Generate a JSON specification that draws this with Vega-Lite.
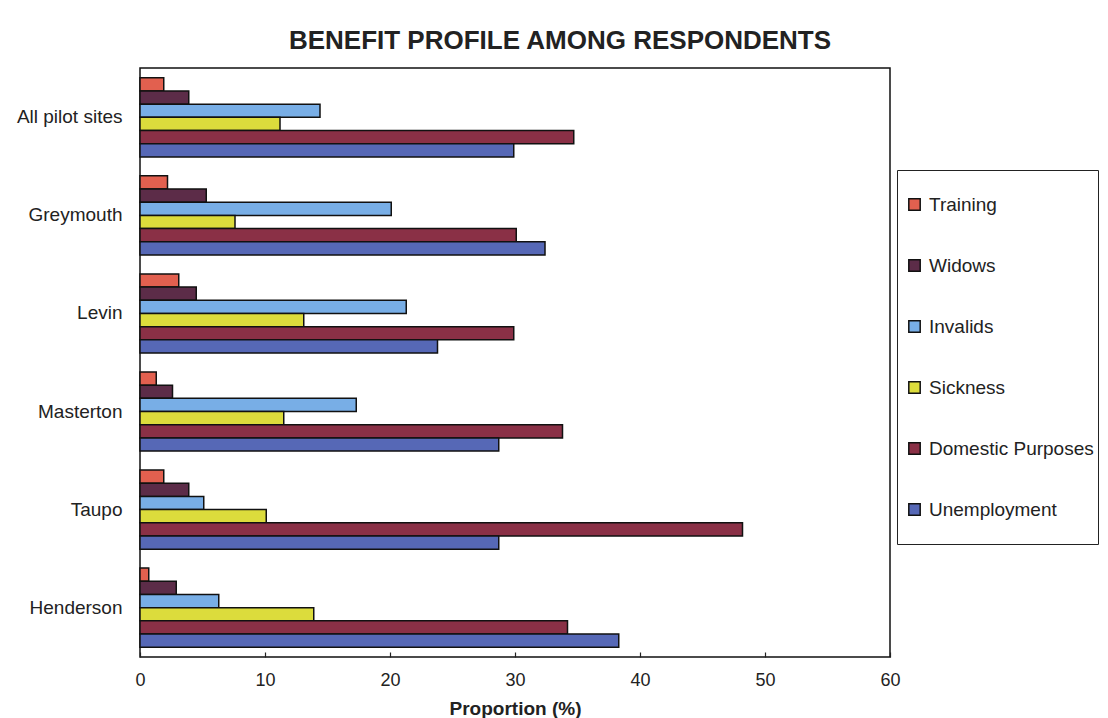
{
  "$schema": "https://vega.github.io/schema/vega-lite/v6.json",
  "width": 750,
  "height": 589,
  "autosize": "none",
  "padding": {"left": 140, "top": 68, "right": 218, "bottom": 61},
  "background": "white",
  "title": {
    "text": "BENEFIT PROFILE AMONG RESPONDENTS",
    "font": "Liberation Sans",
    "fontSize": 26,
    "fontWeight": "bold",
    "color": "#222222",
    "anchor": "middle",
    "dx": 45,
    "offset": 14
  },
  "data": {
    "values": [
      {"site": "All pilot sites", "benefit": "Training", "pct": 1.9},
      {"site": "All pilot sites", "benefit": "Widows", "pct": 3.9},
      {"site": "All pilot sites", "benefit": "Invalids", "pct": 14.4},
      {"site": "All pilot sites", "benefit": "Sickness", "pct": 11.2},
      {"site": "All pilot sites", "benefit": "Domestic Purposes", "pct": 34.7},
      {"site": "All pilot sites", "benefit": "Unemployment", "pct": 29.9},
      {"site": "Greymouth", "benefit": "Training", "pct": 2.2},
      {"site": "Greymouth", "benefit": "Widows", "pct": 5.3},
      {"site": "Greymouth", "benefit": "Invalids", "pct": 20.1},
      {"site": "Greymouth", "benefit": "Sickness", "pct": 7.6},
      {"site": "Greymouth", "benefit": "Domestic Purposes", "pct": 30.1},
      {"site": "Greymouth", "benefit": "Unemployment", "pct": 32.4},
      {"site": "Levin", "benefit": "Training", "pct": 3.1},
      {"site": "Levin", "benefit": "Widows", "pct": 4.5},
      {"site": "Levin", "benefit": "Invalids", "pct": 21.3},
      {"site": "Levin", "benefit": "Sickness", "pct": 13.1},
      {"site": "Levin", "benefit": "Domestic Purposes", "pct": 29.9},
      {"site": "Levin", "benefit": "Unemployment", "pct": 23.8},
      {"site": "Masterton", "benefit": "Training", "pct": 1.3},
      {"site": "Masterton", "benefit": "Widows", "pct": 2.6},
      {"site": "Masterton", "benefit": "Invalids", "pct": 17.3},
      {"site": "Masterton", "benefit": "Sickness", "pct": 11.5},
      {"site": "Masterton", "benefit": "Domestic Purposes", "pct": 33.8},
      {"site": "Masterton", "benefit": "Unemployment", "pct": 28.7},
      {"site": "Taupo", "benefit": "Training", "pct": 1.9},
      {"site": "Taupo", "benefit": "Widows", "pct": 3.9},
      {"site": "Taupo", "benefit": "Invalids", "pct": 5.1},
      {"site": "Taupo", "benefit": "Sickness", "pct": 10.1},
      {"site": "Taupo", "benefit": "Domestic Purposes", "pct": 48.2},
      {"site": "Taupo", "benefit": "Unemployment", "pct": 28.7},
      {"site": "Henderson", "benefit": "Training", "pct": 0.7},
      {"site": "Henderson", "benefit": "Widows", "pct": 2.9},
      {"site": "Henderson", "benefit": "Invalids", "pct": 6.3},
      {"site": "Henderson", "benefit": "Sickness", "pct": 13.9},
      {"site": "Henderson", "benefit": "Domestic Purposes", "pct": 34.2},
      {"site": "Henderson", "benefit": "Unemployment", "pct": 38.3}
    ]
  },
  "mark": {"type": "bar", "stroke": "#111111", "strokeWidth": 1.5},
  "encoding": {
    "y": {
      "field": "site",
      "type": "nominal",
      "sort": ["All pilot sites", "Greymouth", "Levin", "Masterton", "Taupo", "Henderson"],
      "scale": {"paddingInner": 0.193, "paddingOuter": 0.1},
      "axis": {
        "title": null,
        "domain": false,
        "ticks": false,
        "labelPadding": 18,
        "labelFont": "Liberation Sans",
        "labelFontSize": 19,
        "labelColor": "#222222"
      }
    },
    "yOffset": {
      "field": "benefit",
      "type": "nominal",
      "sort": ["Training", "Widows", "Invalids", "Sickness", "Domestic Purposes", "Unemployment"],
      "scale": {"paddingInner": 0, "paddingOuter": 0}
    },
    "x": {
      "field": "pct",
      "type": "quantitative",
      "scale": {"domain": [0, 60], "nice": false},
      "axis": {
        "title": "Proportion (%)",
        "values": [0, 10, 20, 30, 40, 50, 60],
        "grid": false,
        "domain": false,
        "tickSize": -5,
        "tickWidth": 1.2,
        "tickColor": "#222222",
        "labelFlush": false,
        "labelPadding": 19,
        "labelFont": "Liberation Sans",
        "labelFontSize": 18,
        "labelColor": "#222222",
        "titleFont": "Liberation Sans",
        "titleFontSize": 19,
        "titleFontWeight": "bold",
        "titleColor": "#222222",
        "titlePadding": 10
      }
    },
    "color": {
      "field": "benefit",
      "type": "nominal",
      "sort": ["Training", "Widows", "Invalids", "Sickness", "Domestic Purposes", "Unemployment"],
      "scale": {
        "domain": ["Training", "Widows", "Invalids", "Sickness", "Domestic Purposes", "Unemployment"],
        "range": ["#e2604f", "#5c2c48", "#78aee6", "#dcdc3c", "#8a3046", "#5668b6"]
      },
      "legend": {
        "title": null,
        "orient": "none",
        "legendX": 757,
        "legendY": 102,
        "padding": 4,
        "clipHeight": 61,
        "rowPadding": 0,
        "strokeColor": "#222222",
        "fillColor": "white",
        "symbolType": "square",
        "symbolSize": 130,
        "symbolOffset": 4,
        "symbolStrokeColor": "#111111",
        "symbolStrokeWidth": 1.5,
        "labelOffset": 5,
        "labelFont": "Liberation Sans",
        "labelFontSize": 19,
        "labelColor": "#222222",
        "labelLimit": 300
      }
    }
  },
  "config": {
    "view": {"stroke": "#111111", "strokeWidth": 1.5},
    "font": "Liberation Sans"
  }
}
